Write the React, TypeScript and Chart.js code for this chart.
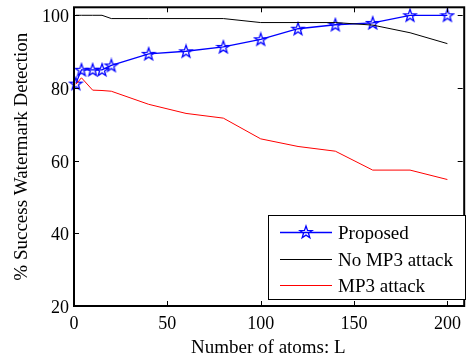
import React, { useEffect, useRef } from "react";
import { Chart, registerables } from "chart.js";

Chart.register(...registerables);

const xValues = [1, 4, 10, 15, 20, 40, 60, 80, 100, 120, 140, 160, 180, 200];
const proposed = [81.2, 85, 85, 85, 86.2, 89.4, 90.1, 91.3, 93.4, 96.3, 97.4, 97.9, 100, 100];
const noAttack = [100, 100, 100, 100, 99.1, 99.1, 99.1, 99.1, 98, 98, 98, 97.3, 95.2, 92.2];
const attack = [81, 82.8, 79.4, 79.3, 79.1, 75.5, 73, 71.7, 66, 63.9, 62.6, 57.4, 57.4, 54.8];
const xTicks = [0, 50, 100, 150, 200];
const yTicks = [20, 40, 60, 80, 100];
const seriesLabels = ["Proposed", "No MP3 attack", "MP3 attack"];
const seriesColors = ["#0000ff", "#000000", "#ff0000"];
const xTitle = "Number of atoms: L";
const yTitle = "% Success Watermark Detection";

const FAM = "'Liberation Serif'";

function makeStar(color: string) {
  const c = document.createElement("canvas");
  const s = 16;
  c.width = s;
  c.height = s;
  const ctx = c.getContext("2d")!;
  const cx = s / 2, cy = s / 2 + 0.5;
  const ro = 6.5, ri = 2.6;
  ctx.beginPath();
  for (let i = 0; i < 10; i++) {
    const r = i % 2 === 0 ? ro : ri;
    const a = -Math.PI / 2 + (i * Math.PI) / 5;
    const px = cx + r * Math.cos(a);
    const py = cy + r * Math.sin(a);
    if (i === 0) ctx.moveTo(px, py);
    else ctx.lineTo(px, py);
  }
  ctx.closePath();
  ctx.strokeStyle = color;
  ctx.lineWidth = 1.3;
  ctx.stroke();
  return c;
}

export default function App() {
  const ref = useRef<HTMLCanvasElement | null>(null);

  useEffect(() => {
    if (!ref.current) return;
    const star = makeStar(seriesColors[0]);

    const framePlugin = {
      id: "frame",
      afterDatasetsDraw(chart: any) {
        const { ctx, chartArea } = chart;
        const { left, right, top, bottom } = chartArea;
        const xs = chart.scales.x;
        const ys = chart.scales.y;
        ctx.save();
        ctx.strokeStyle = "#000";
        ctx.lineWidth = 2;
        ctx.strokeRect(left, top, right + 1.5 - left, bottom - top);
        ctx.lineWidth = 1;
        const tl = 5;
        ctx.beginPath();
        for (const v of xTicks) {
          const px = Math.round(xs.getPixelForValue(v)) + 0.5;
          ctx.moveTo(px, bottom);
          ctx.lineTo(px, bottom - tl);
          ctx.moveTo(px, top);
          ctx.lineTo(px, top + tl);
        }
        for (const v of yTicks) {
          const py = Math.round(ys.getPixelForValue(v)) + 0.5;
          ctx.moveTo(left, py);
          ctx.lineTo(left + tl, py);
          ctx.moveTo(right, py);
          ctx.lineTo(right - tl, py);
        }
        ctx.stroke();

        // tick labels
        ctx.fillStyle = "#000";
        ctx.font = `18px ${FAM}`;
        ctx.textBaseline = "alphabetic";
        ctx.textAlign = "center";
        for (const v of xTicks) {
          ctx.fillText(String(v), xs.getPixelForValue(v), 329);
        }
        ctx.textAlign = "right";
        for (const v of yTicks) {
          ctx.fillText(String(v), 69, ys.getPixelForValue(v) + 7);
        }

        // axis titles
        ctx.font = `19px ${FAM}`;
        ctx.textAlign = "center";
        ctx.fillText(xTitle, (left + right) / 2, 353);
        ctx.save();
        ctx.translate(27, (top + bottom) / 2);
        ctx.rotate(-Math.PI / 2);
        ctx.fillText(yTitle, 0, 0);
        ctx.restore();

        // legend
        const bx = 268.5, by = 215.5, bw = 197, bh = 84;
        ctx.fillStyle = "#fff";
        ctx.fillRect(bx, by, bw, bh);
        ctx.strokeStyle = "#000";
        ctx.lineWidth = 1;
        ctx.strokeRect(bx, by, bw, bh);
        const rows = [232, 259, 285];
        ctx.font = `19px ${FAM}`;
        ctx.textBaseline = "alphabetic";
        ctx.textAlign = "left";
        seriesLabels.forEach((lab, i) => {
          const yy = rows[i] + 0.5;
          ctx.strokeStyle = seriesColors[i];
          ctx.lineWidth = i === 0 ? 1.3 : 1;
          ctx.beginPath();
          ctx.moveTo(280, yy);
          ctx.lineTo(332, yy);
          ctx.stroke();
          if (i === 0) ctx.drawImage(star, 306 - 8, yy - 8.5);
          ctx.fillStyle = "#000";
          ctx.fillText(lab, 338, rows[i] + 6.5);
        });
        ctx.restore();
      },
    };

    const mk = (vals: number[]) => xValues.map((x, i) => ({ x, y: vals[i] }));

    const chart = new Chart(ref.current, {
      type: "line",
      data: {
        datasets: [
          {
            label: seriesLabels[1],
            data: mk(noAttack),
            borderColor: seriesColors[1],
            borderWidth: 1,
            pointRadius: 0,
            tension: 0,
          },
          {
            label: seriesLabels[2],
            data: mk(attack),
            borderColor: seriesColors[2],
            borderWidth: 1,
            pointRadius: 0,
            tension: 0,
          },
          {
            label: seriesLabels[0],
            data: mk(proposed),
            borderColor: seriesColors[0],
            borderWidth: 1.3,
            pointStyle: star as any,
            pointRadius: 6,
            tension: 0,
          },
        ],
      },
      options: {
        responsive: false,
        animation: false,
        clip: false as any,
        layout: { padding: { top: 5, right: 0, left: 0, bottom: 0 } },
        plugins: { legend: { display: false }, tooltip: { enabled: false } },
        scales: {
          x: {
            type: "linear",
            min: 0,
            max: 208.2,
            grid: { display: false, drawTicks: false },
            border: { display: false },
            ticks: { display: false },
            afterFit: (s: any) => {
              s.height = 55;
            },
          },
          y: {
            type: "linear",
            min: 20,
            max: 102.2,
            grid: { display: false, drawTicks: false },
            border: { display: false },
            ticks: { display: false },
            afterFit: (s: any) => {
              s.width = 74;
            },
          },
        },
      },
      plugins: [framePlugin],
    });
    return () => chart.destroy();
  }, []);

  return (
    <div style={{ position: "absolute", left: 0, top: 0, width: 470, height: 361, background: "#fff" }}>
      <canvas ref={ref} width={470} height={361} style={{ display: "block" }} />
    </div>
  );
}
